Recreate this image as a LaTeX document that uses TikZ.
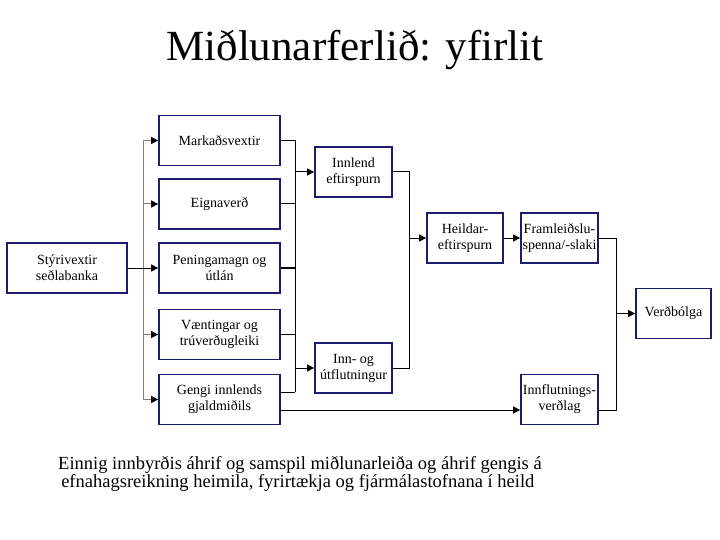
\documentclass[tikz,border=0pt]{standalone}
\usepackage{fontspec}
\setmainfont{Liberation Serif}
\usepackage{xcolor}
\usepackage{tikz}
\usetikzlibrary{arrows.meta}
\definecolor{boxblue}{HTML}{1C1C6E}

\begin{document}
\begin{tikzpicture}[x=1pt,y=-1pt,
    stage/.style={draw=boxblue, line width=1.7pt, fill=white, align=center,
        minimum height=50pt, inner sep=1pt, font=\fontsize{14}{16}\selectfont},
    flow/.style={line width=1pt, -{Triangle[length=7pt,width=7pt]}},
    link/.style={line width=1pt},
    feed/.style={gray, line width=1pt, -{Triangle[length=7pt,width=7pt,color=black]}}]
        \useasboundingbox (0,0) rectangle (720,540);
        \node[font=\fontsize{43}{47}\selectfont] (title) at (355,50) {Miðlunarferlið: yfirlit};
        % channels
        \node[stage, minimum width=120pt] (styri) at (67,268) {Stýrivextir\\seðlabanka};
        \node[stage, minimum width=121pt] (markad) at (219.5,140.5) {Markaðsvextir};
        \node[stage, minimum width=121pt] (eigna) at (219.5,204) {Eignaverð};
        \node[stage, minimum width=121pt] (pening) at (219.5,268) {Peningamagn og\\útlán};
        \node[stage, minimum width=121pt] (vaent) at (219.5,334.5) {Væntingar og\\trúverðugleiki};
        \node[stage, minimum width=121pt] (gengi) at (219.5,399.5) {Gengi innlends\\gjaldmiðils};
        \node[stage, minimum width=77pt] (innlend) at (353.5,172) {Innlend\\eftirspurn};
        \node[stage, minimum width=77pt] (innut) at (353.5,368) {Inn- og\\útflutningur};
        \node[stage, minimum width=76pt] (heild) at (465,238) {Heildar-\\eftirspurn};
        \node[stage, minimum width=77pt] (fram) at (559.5,238) {Framleiðslu-\\spenna/-slaki};
        \node[stage, minimum width=77pt] (innfl) at (559.5,399.5) {Innflutnings-\\verðlag};
        \node[stage, minimum width=75pt] (verdb) at (673.5,313.5) {Verðbólga};
        % buses
        \coordinate (lb) at (143,0);
        \coordinate (mb) at (295,0);
        \coordinate (rb) at (409,0);
        \coordinate (fb) at (616,0);
        \coordinate (gup) at ([yshift=7.5pt]gengi.east);
        \coordinate (glow) at ([yshift=-10.5pt]gengi.east);
        \coordinate (ilow) at ([yshift=-10.5pt]innfl.west);
        \coordinate (iout) at ([yshift=-10.5pt]innfl.east);
        \draw[gray, line width=1pt] (lb |- markad) -- (lb |- gengi);
        \foreach \b in {markad,eigna,vaent,gengi}
            \draw[feed] (lb |- \b) -- (\b);
        \draw[flow] (styri) -- (pening);
        \foreach \b in {markad,eigna,vaent}
            \draw[link] (\b) -- (mb |- \b);
        \draw[link, line width=1.5pt] (pening) -- (mb |- pening);
        \draw[link] (gup) -- (mb |- gup);
        \draw[link] (mb |- markad) -- (mb |- gup);
        \draw[flow] (mb |- innlend) -- (innlend);
        \draw[flow] (mb |- innut) -- (innut);
        \draw[link] (innlend) -- (rb |- innlend) -- (rb |- innut) -- (innut);
        \draw[flow] (rb |- heild) -- (heild);
        \draw[flow] (heild) -- (fram);
        \draw[link] (fram) -- (fb |- fram) -- (fb |- iout) -- (iout);
        \draw[flow] (fb |- verdb) -- (verdb);
        \draw[flow] (glow) -- (ilow);
        \node[anchor=north west, align=left, inner sep=0pt,
              font=\fontsize{18.5}{18}\selectfont] (note) at (58,456)
            {Einnig innbyrðis áhrif og samspil miðlunarleiða og áhrif gengis á\\
             \,efnahagsreikning heimila, fyrirtækja og fjármálastofnana í heild};
\end{tikzpicture}
\end{document}
